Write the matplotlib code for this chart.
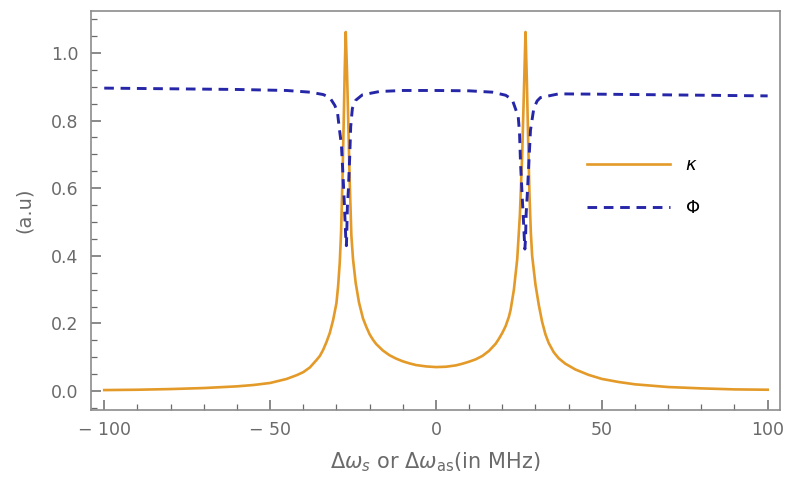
import matplotlib.pyplot as plt
from matplotlib.ticker import MultipleLocator

plt.rcParams['font.family'] = ['DejaVu Sans']
plt.rcParams['mathtext.fontset'] = 'dejavusans'

# kappa curve (detuning in MHz, value in a.u.)
kappa_x = [-100, -90, -80, -70, -60, -55, -50, -45, -42, -40, -38, -36, -35, -34, -33, -32,
           -31, -30, -29.5, -29, -28.6, -28.2, -27.8, -27.5, -27.2, -26.8, -26.4, -26.0,
           -25.5, -25, -24.2, -23.2, -22, -21, -20, -19, -18, -16, -14, -12, -10, -8, -6,
           -3, 0,
           3, 6, 8, 10, 12, 14, 16, 18, 19, 20, 21, 22, 22.5, 23.5, 24.5, 25.3, 26, 26.5,
           27.0, 27.4, 27.8, 28.2, 28.6, 29.0, 30, 31, 32, 33, 34, 35.5, 37, 39, 42, 46, 50,
           55, 60, 70, 80, 90, 100]
kappa_y = [0.003, 0.004, 0.006, 0.009, 0.014, 0.018, 0.024, 0.036, 0.047, 0.056, 0.07, 0.092,
           0.104, 0.122, 0.145, 0.172, 0.21, 0.26, 0.31, 0.38, 0.47, 0.62, 0.80, 0.95, 1.062,
           0.94, 0.78, 0.62, 0.46, 0.39, 0.32, 0.262, 0.215, 0.19, 0.168, 0.152, 0.139, 0.12,
           0.106, 0.096, 0.088, 0.082, 0.077, 0.073, 0.071,
           0.072, 0.076, 0.081, 0.087, 0.094, 0.104, 0.119, 0.14, 0.155, 0.172, 0.192, 0.22,
           0.24, 0.30, 0.39, 0.52, 0.70, 0.88, 1.062, 0.92, 0.74, 0.58, 0.47, 0.40, 0.315,
           0.255, 0.205, 0.168, 0.142, 0.115, 0.097, 0.081, 0.064, 0.048, 0.036, 0.027, 0.02,
           0.012, 0.008, 0.005, 0.004]

# Phi curve
phi_x = [-100, -80, -60, -45, -38, -34, -32, -30.5, -29.7, -29.2, -28.5, -28.0, -27.6, -27.2,
         -27.0, -26.9, -26.7, -26.4, -26.0, -25.7, -25.2, -24.2, -22.2, -17, -10, 0, 10, 17,
         21, 23, 24.8, 25.2, 25.5, 26.0, 26.4, 26.8, 27.0, 27.2, 27.5, 28.0, 28.5, 29.5, 30.5,
         31.5, 37, 50, 70, 100]
phi_y = [0.896, 0.894, 0.892, 0.889, 0.884, 0.877, 0.868, 0.845, 0.826, 0.782, 0.728, 0.634,
         0.55, 0.456, 0.43, 0.46, 0.545, 0.595, 0.693, 0.782, 0.836, 0.86, 0.876, 0.886, 0.889,
         0.889, 0.888, 0.884, 0.875, 0.862, 0.812, 0.762, 0.673, 0.575, 0.5, 0.42, 0.45, 0.526,
         0.575, 0.673, 0.772, 0.836, 0.858, 0.868, 0.879, 0.878, 0.876, 0.873]

fig = plt.figure(figsize=(7.87, 4.79), dpi=100)
ax = fig.add_axes([0.1156, 0.144, 0.875, 0.833])

ax.plot(kappa_x, kappa_y, color='#E39A28', linewidth=1.9, label=r'$\kappa$')
ax.plot(phi_x, phi_y, color='#2626A8', linewidth=2.1, linestyle=(0, (3.3, 2.3)), label=r'$\Phi$')

ax.set_xlim(-104, 103.6)
ax.set_ylim(-0.056, 1.124)

grey = '#6a6a6a'
ax.xaxis.set_major_locator(MultipleLocator(50))
ax.xaxis.set_minor_locator(MultipleLocator(10))
ax.yaxis.set_major_locator(MultipleLocator(0.2))
ax.yaxis.set_minor_locator(MultipleLocator(0.05))
ax.xaxis.set_major_formatter(lambda v, p: f"\u2212 {abs(v):.0f}" if v < 0 else f"{v:.0f}")
ax.yaxis.set_major_formatter(lambda v, p: f"{v:.1f}")
ax.tick_params(which='both', direction='in', color=grey, labelcolor=grey, labelsize=12.5,
               top=False, right=False)
ax.tick_params(which='major', length=7, width=1.1)
ax.tick_params(which='minor', length=4, width=0.9)
ax.tick_params(axis='x', which='major', pad=8)
ax.tick_params(axis='y', which='major', pad=9)
for s in ax.spines.values():
    s.set_color('#8c8c8c')
    s.set_linewidth(1.2)

ax.set_xlabel(r'$\Delta\omega_{s}$ or $\Delta\omega_{\rm as}$(in MHz)', color=grey, fontsize=15,
              labelpad=8)
ax.set_ylabel('(a.u)', color=grey, fontsize=14, labelpad=12)

leg = ax.legend(loc='center left', bbox_to_anchor=(0.697, 0.56), frameon=False, fontsize=13,
                handlelength=4.6, handletextpad=0.8, labelspacing=1.4)

fig.savefig('out.png', dpi=100)
